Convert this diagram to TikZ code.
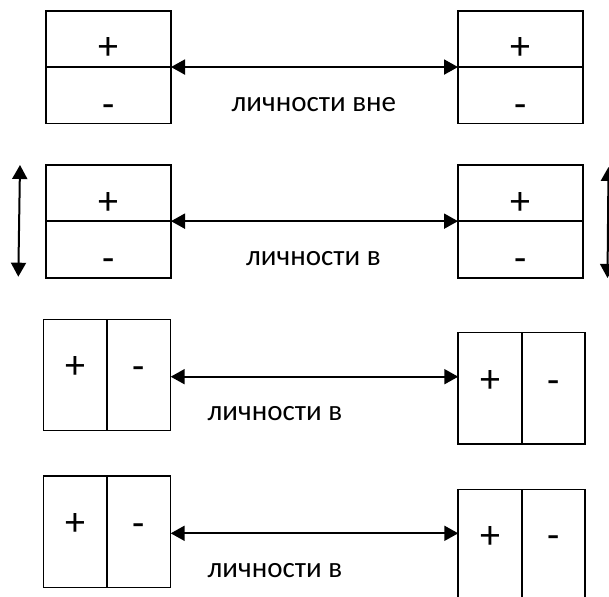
\documentclass[tikz,border=0pt]{standalone}
\usepackage{fontspec}
\setmainfont{Carlito}
\usetikzlibrary{arrows.meta}
\begin{document}
\begin{tikzpicture}[x=1pt,y=-1pt,
  cell/.style={draw=black,line width=1.6pt,inner sep=0pt,outer sep=0pt},
  hcell/.style={cell,minimum width=125pt,minimum height=56.3pt},
  vcell/.style={cell,minimum width=63.5pt,minimum height=111.3pt},
  sign/.style={inner sep=0pt,yshift=-2pt,font=\fontsize{40}{42}\selectfont,
    execute at begin node=\vphantom{+}},
  caption/.style={inner sep=0pt,anchor=mid west,font=\fontsize{29}{31}\selectfont},
  link/.style={line width=2pt,{Triangle[length=14pt,width=15pt]}-{Triangle[length=14pt,width=15pt]}}]
\useasboundingbox (0,0) rectangle (609,596);

% row 1: stacked cells
\node[hcell] (l1p) at (108.5,38.9) {};
\node[hcell] (l1m) at (108.5,95.2) {};
\node[hcell] (r1p) at (520.5,38.9) {};
\node[hcell] (r1m) at (520.5,95.2) {};
\node[sign] (l1ps) at (108.5,46.7) {+};
\node[sign] (l1ms) at (108.5,105) {-};
\node[sign] (r1ps) at (520.5,46.7) {+};
\node[sign] (r1ms) at (520.5,105) {-};
\draw[link] (l1p.south east) -- (r1p.south west);
\node[caption] (t1) at (231.5,109) {личности вне};

% row 2: stacked cells with vertical arrows
\node[hcell] (l2p) at (108.5,193) {};
\node[hcell] (l2m) at (108.5,249.6) {};
\node[hcell] (r2p) at (520.5,193) {};
\node[hcell] (r2m) at (520.5,249.6) {};
\node[sign] (l2ps) at (108.5,201.7) {+};
\node[sign] (l2ms) at (108.5,258.3) {-};
\node[sign] (r2ps) at (520.5,201.7) {+};
\node[sign] (r2ms) at (520.5,258.3) {-};
\draw[link] (l2p.south east) -- (r2p.south west);
\node[caption] (t2) at (246,263.5) {личности в};
\coordinate (vl1) at (20,165);
\coordinate (vl2) at (18.3,276.7);
\coordinate (vr1) at (608.5,167);
\coordinate (vr2) at (607.5,278);
\draw[link] (vl1) -- (vl2);
\draw[link] (vr1) -- (vr2);

% row 3: side-by-side cells
\node[vcell] (l3p) at (75.3,375) {};
\node[vcell] (l3m) at (138.8,375) {};
\node[vcell] (r3p) at (490,388.3) {};
\node[vcell] (r3m) at (553.5,388.3) {};
\node[sign] (l3ps) at (75.3,365.7) {+};
\node[sign] (l3ms) at (138.8,366.5) {-};
\node[sign] (r3ps) at (490,379.5) {+};
\node[sign] (r3ms) at (553.5,380) {-};
\coordinate (a3) at (170.7,376.7);
\draw[link] (a3) -- (a3 -| r3p.west);
\node[caption] (t3) at (207.5,418.5) {личности в};

% row 4: side-by-side cells
\node[vcell] (l4p) at (75.3,531.7) {};
\node[vcell] (l4m) at (138.8,531.7) {};
\node[vcell] (r4p) at (490,545) {};
\node[vcell] (r4m) at (553.5,545) {};
\node[sign] (l4ps) at (75.3,522.7) {+};
\node[sign] (l4ms) at (138.8,523) {-};
\node[sign] (r4ps) at (490,535) {+};
\node[sign] (r4ms) at (553.5,535) {-};
\coordinate (a4) at (170.7,533.3);
\draw[link] (a4) -- (a4 -| r4p.west);
\node[caption] (t4) at (207.5,575) {личности в};
\end{tikzpicture}
\end{document}
